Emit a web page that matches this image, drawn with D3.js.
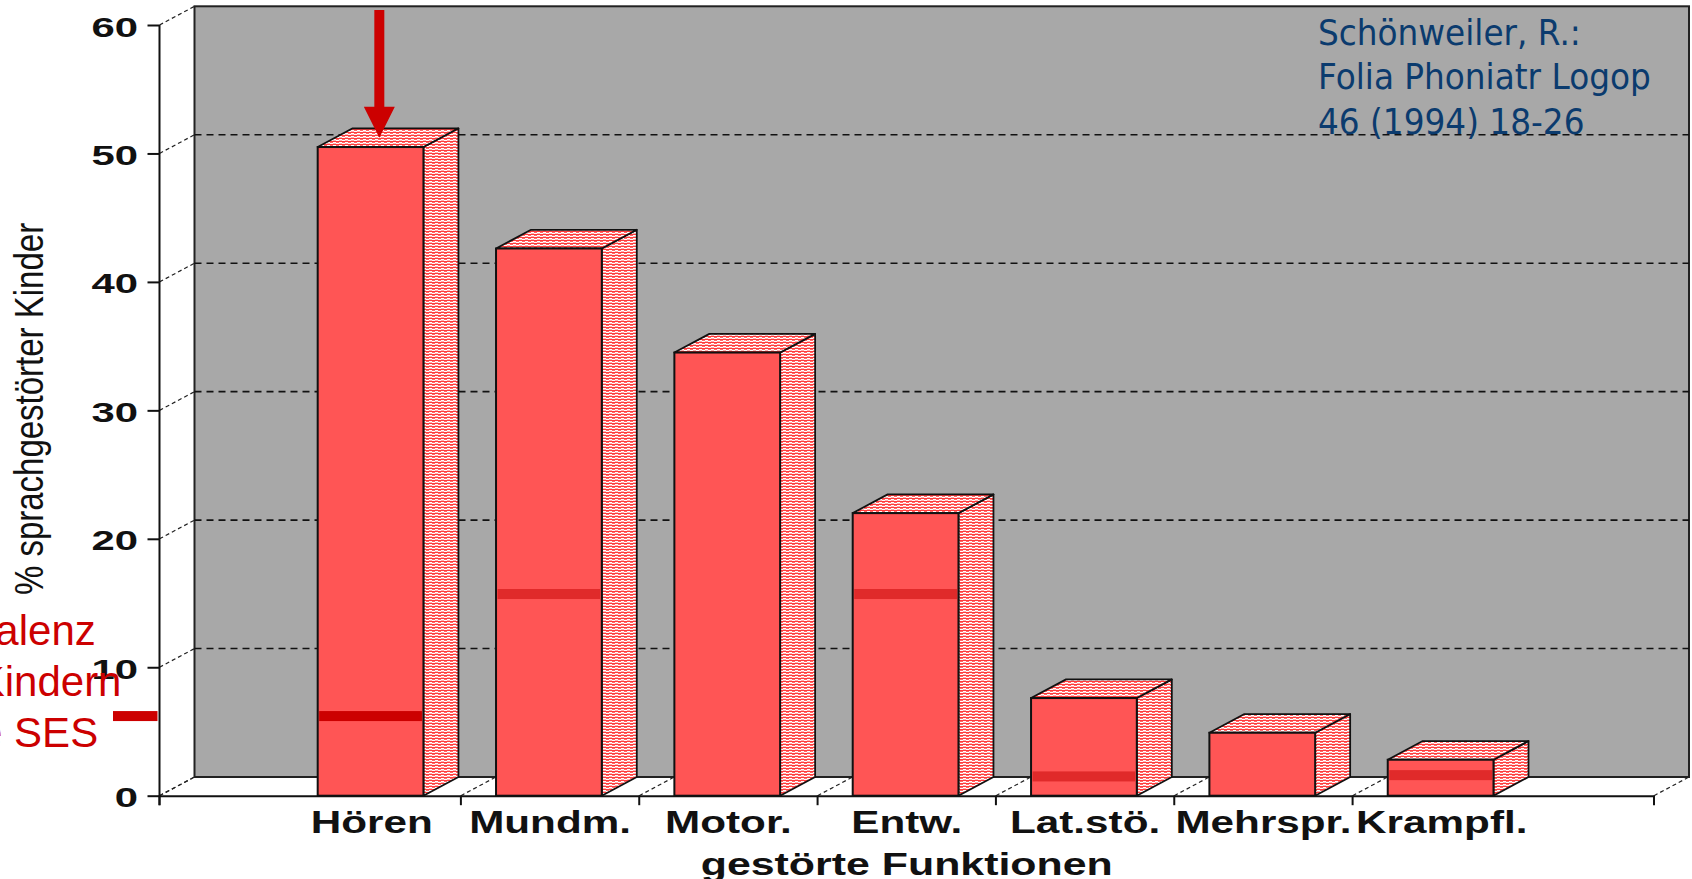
<!DOCTYPE html>
<html lang="de">
<head>
<meta charset="utf-8">
<script src="https://cdn.jsdelivr.net/npm/d3@7"></script>
<style>
  html, body { margin: 0; padding: 0; background: #ffffff; overflow: hidden; }
  svg { display: block; }
</style>
</head>
<body>
<svg id="chart" width="1692" height="879"></svg>
<script>
// Gestörte Funktionen bei sprachgestörten Kindern (Schönweiler 1994)
const categories = ["Hören", "Mundm.", "Motor.", "Entw.", "Lat.stö.", "Mehrspr.", "Krampfl."];
const values = [50.5, 42.6, 34.5, 22.0, 7.6, 4.9, 2.8];
// Prävalenz der jeweiligen Funktionsstörung bei Kindern ohne SES (null = kein Wert)
const prevalenceOhneSES = [6.2, 15.7, null, 15.7, 1.5, null, 1.6];
const yTicks = [0, 10, 20, 30, 40, 50, 60];
const yTitle = "% sprachgestörter Kinder";
const xTitle = "gestörte Funktionen";
const citation = ["Schönweiler, R.:", "Folia Phoniatr Logop", "46 (1994) 18-26"];
const annotationLines = ["Prävalenz", "bei Kindern", "ohne SES"];
const highlighted = "Hören";

const svg = d3.select("#chart");

// plot frame
const x0 = 159.5, x1 = 1654;
const depth = { dx: 35, dy: -18.7 };
const y = d3.scaleLinear().domain([0, 60]).range([795.7, 25]);
const x = d3.scaleBand().domain(categories).range([x0, x1]).paddingInner(0).paddingOuter(0.69);
const step = x.step();
const front = c => ({ l: x(c) + 0.197 * step, r: x(c) + 0.79 * step });

const wallGray = "#a8a8a8";
const barRed = "#ff5555";
const annoRed = "#cc0000";
const markRed = "#e02a2a";
const ink = "#111111";
const chartFont = "'Liberation Sans', Arial, sans-serif";
const noteFont = "'DejaVu Sans', Verdana, sans-serif";

// hatch used for the top and side faces of the bars
const defs = svg.append("defs");
const pat = defs.append("pattern").attr("id", "hatch")
  .attr("patternUnits", "userSpaceOnUse").attr("width", 6).attr("height", 3);
pat.append("rect").attr("width", 6).attr("height", 3).attr("fill", "#ffffff");
pat.append("rect").attr("x", 0).attr("y", 0).attr("width", 6).attr("height", 1).attr("fill", "#ff3c3c");
pat.append("rect").attr("x", 0).attr("y", 1).attr("width", 3).attr("height", 1).attr("fill", "#ff6a6a");
pat.append("rect").attr("x", 3).attr("y", 2).attr("width", 3).attr("height", 1).attr("fill", "#ffb0b0");

// back wall
const wallL = x0 + depth.dx, wallR = x1 + depth.dx;
const wallT = y(60) + depth.dy, wallB = y(0) + depth.dy;
svg.append("rect")
  .attr("x", wallL).attr("y", wallT)
  .attr("width", wallR - wallL).attr("height", wallB - wallT)
  .attr("fill", wallGray).attr("stroke", "#222").attr("stroke-width", 2);

// dashed grid lines on the wall
svg.append("g").selectAll("line")
  .data(yTicks.filter(t => t > 0 && t < 60))
  .join("line")
  .attr("x1", wallL).attr("x2", wallR)
  .attr("y1", d => y(d) + depth.dy).attr("y2", d => y(d) + depth.dy)
  .attr("stroke", "#111").attr("stroke-width", 1.6).attr("stroke-dasharray", "7,5");

// diagonals from the y-axis ticks to the wall
svg.append("g").selectAll("line")
  .data(yTicks)
  .join("line")
  .attr("x1", x0).attr("y1", d => y(d))
  .attr("x2", x0 + depth.dx).attr("y2", d => y(d) + depth.dy)
  .attr("stroke", "#222").attr("stroke-width", 1.2).attr("stroke-dasharray", "4,3");

// boundary ticks along the floor
const boundaries = [x0, ...categories.slice(1).map(c => x(c)), x1];
svg.append("g").selectAll("line")
  .data(boundaries)
  .join("line")
  .attr("x1", d => d).attr("y1", y(0))
  .attr("x2", d => d + depth.dx).attr("y2", y(0) + depth.dy)
  .attr("stroke", "#222").attr("stroke-width", 1.2).attr("stroke-dasharray", "4,3");

// bars
const bars = svg.append("g");
categories.forEach((c, i) => {
  const v = values[i];
  const f = front(c);
  const yt = y(v), yb = y(0);
  const g = bars.append("g");
  g.append("polygon")
    .attr("points", [[f.r, yt], [f.r + depth.dx, yt + depth.dy], [f.r + depth.dx, yb + depth.dy], [f.r, yb]].join(" "))
    .attr("fill", "url(#hatch)").attr("stroke", ink).attr("stroke-width", 1.8).attr("stroke-linejoin", "round");
  g.append("polygon")
    .attr("points", [[f.l, yt], [f.l + depth.dx, yt + depth.dy], [f.r + depth.dx, yt + depth.dy], [f.r, yt]].join(" "))
    .attr("fill", "url(#hatch)").attr("stroke", ink).attr("stroke-width", 1.8).attr("stroke-linejoin", "round");
  g.append("rect")
    .attr("x", f.l).attr("y", yt).attr("width", f.r - f.l).attr("height", yb - yt)
    .attr("fill", barRed).attr("stroke", ink).attr("stroke-width", 2);
});

// prevalence marks in children without SES
const markH = 10;
svg.append("g").selectAll("rect")
  .data(categories.map((c, i) => ({ c, p: prevalenceOhneSES[i] })).filter(d => d.p != null))
  .join("rect")
  .attr("x", d => front(d.c).l + 1.5)
  .attr("width", d => front(d.c).r - front(d.c).l - 3)
  .attr("y", d => y(d.p) - markH / 2)
  .attr("height", markH)
  .attr("fill", d => d.c === highlighted ? annoRed : markRed);

// y axis
const yAxis = svg.append("g")
  .attr("transform", `translate(${x0},0)`)
  .call(d3.axisLeft(y).tickValues(yTicks).tickSize(12).tickSizeOuter(0));
yAxis.select(".domain").remove();
yAxis.selectAll(".tick line").attr("stroke", ink).attr("stroke-width", 2);
yAxis.selectAll(".tick text")
  .attr("x", 0).attr("dy", null).attr("text-anchor", "end")
  .attr("transform", "translate(-21.5,11) scale(1.55,1)")
  .attr("font-family", chartFont)
  .attr("font-weight", "bold").attr("font-size", 27).attr("fill", ink);
svg.append("line")
  .attr("x1", x0).attr("x2", x0).attr("y1", y(60)).attr("y2", y(0) + 9.5)
  .attr("stroke", ink).attr("stroke-width", 2);

// x axis with category labels
const xAxis = svg.append("g")
  .attr("transform", `translate(0,${y(0)})`)
  .call(d3.axisBottom(x).tickSize(0).tickSizeOuter(0));
xAxis.select(".domain").attr("stroke", ink).attr("stroke-width", 2);
xAxis.selectAll(".tick text")
  .attr("y", 0).attr("dy", null)
  .attr("transform", "translate(0,37.5) scale(1.32,1)")
  .attr("font-family", chartFont)
  .attr("font-weight", "bold").attr("font-size", 32).attr("fill", ink);
svg.append("g").selectAll("line")
  .data(boundaries)
  .join("line")
  .attr("x1", d => d).attr("x2", d => d)
  .attr("y1", y(0)).attr("y2", y(0) + 9.5)
  .attr("stroke", ink).attr("stroke-width", 2);

// axis titles
svg.append("text")
  .attr("transform", `translate(${(x0 + x1) / 2},875) scale(1.34,1)`)
  .attr("text-anchor", "middle")
  .attr("font-family", chartFont)
  .attr("font-weight", "bold").attr("font-size", 32).attr("fill", ink)
  .text(xTitle);
svg.append("text")
  .attr("transform", "translate(43,409) rotate(-90) scale(1,1.25)")
  .attr("text-anchor", "middle")
  .attr("font-family", chartFont)
  .attr("font-size", 33).attr("fill", ink)
  .text(yTitle);

// citation
svg.append("g").selectAll("text")
  .data(citation)
  .join("text")
  .attr("transform", (d, i) => `translate(1318,${45 + i * 44.4}) scale(0.936,1)`)
  .attr("font-family", noteFont)
  .attr("font-size", 35).attr("fill", "#0b3b6e")
  .text(d => d);

// annotation: prevalence in children without SES
const hi = categories.indexOf(highlighted);
const yPrev = y(prevalenceOhneSES[hi]);
svg.append("g").selectAll("text")
  .data(annotationLines)
  .join("text")
  .attr("x", -91)
  .attr("y", (d, i) => 645 + i * 50.8)
  .attr("text-anchor", "start")
  .attr("font-family", chartFont)
  .attr("font-size", 42).attr("fill", annoRed)
  .text(d => d);
svg.append("rect")
  .attr("x", 113).attr("width", x0 - 2 - 113)
  .attr("y", yPrev - markH / 2).attr("height", markH)
  .attr("fill", annoRed);

// arrow pointing at the highlighted bar
const hf = front(highlighted);
const ax = (hf.l + hf.r) / 2 + depth.dx / 4;
const tipY = y(values[hi]) + depth.dy / 2;
const headH = 31, headW = 31, shaftW = 10, shaftTop = 10;
svg.append("path")
  .attr("d", d3.line()([
    [ax - shaftW / 2, shaftTop], [ax + shaftW / 2, shaftTop],
    [ax + shaftW / 2, tipY - headH], [ax + headW / 2, tipY - headH],
    [ax, tipY], [ax - headW / 2, tipY - headH],
    [ax - shaftW / 2, tipY - headH]
  ]) + "Z")
  .attr("fill", annoRed);
</script>
</body>
</html>
